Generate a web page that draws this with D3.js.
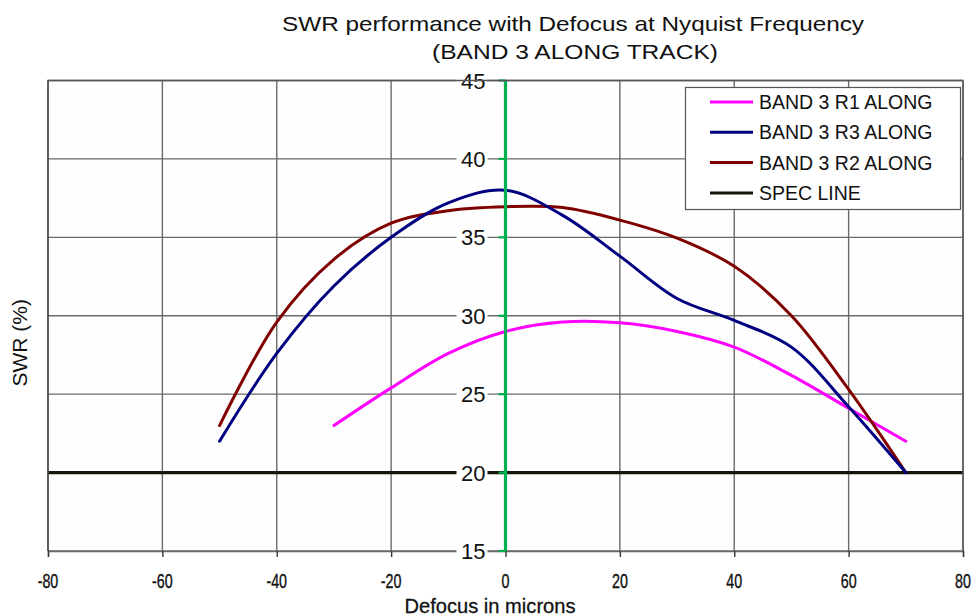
<!DOCTYPE html>
<html>
<head>
<meta charset="utf-8">
<script src="https://cdn.jsdelivr.net/npm/d3@7"></script>
<style>
  html, body { margin: 0; padding: 0; background: #fff; }
  svg { display: block; font-family: "Liberation Sans", Arial, sans-serif; }
</style>
</head>
<body>
<svg id="chart" width="977" height="616"></svg>
<script>
// Defocus (microns) sample positions for each series
const defocusR1 = [-30, -20, -10, 0, 10, 20, 30, 40, 50, 60, 70];
const defocusR2R3 = [-50, -40, -30, -20, -10, 0, 10, 20, 30, 40, 50, 60, 70];

// SWR (%) values
const swrR1 = [23.0, 25.4, 27.6, 29.0, 29.6, 29.55, 29.0, 28.0, 26.2, 24.1, 22.0];
const swrR3 = [22.0, 27.6, 31.9, 35.0, 37.2, 38.0, 36.4, 33.8, 31.1, 29.7, 28.0, 24.2, 20.0];
const swrR2 = [23.0, 29.6, 33.6, 35.9, 36.7, 36.95, 36.9, 36.1, 34.95, 33.15, 30.0, 25.3, 20.0];
const specLevel = 20;

// Axis ticks and labels
const xTicks = [-80, -60, -40, -20, 0, 20, 40, 60, 80];
const yTicks = [15, 20, 25, 30, 35, 40, 45];
const seriesNames = ["BAND 3 R1 ALONG", "BAND 3 R3 ALONG", "BAND 3 R2 ALONG", "SPEC LINE"];
const seriesColors = ["#ff00ff", "#000080", "#800000", "#141408"];

const svg = d3.select("#chart");
const plot = { left: 48, right: 963, top: 80.5, bottom: 551 };

const x = d3.scaleLinear().domain([-80, 80]).range([plot.left, plot.right]);
const y = d3.scaleLinear().domain([15, 45]).range([plot.bottom, plot.top]);

// Plot background
svg.append("rect")
  .attr("x", plot.left).attr("y", plot.top)
  .attr("width", plot.right - plot.left).attr("height", plot.bottom - plot.top)
  .attr("fill", "#fefefe");

// Horizontal gridlines
svg.append("g")
  .selectAll("line")
  .data(yTicks)
  .join("line")
  .attr("x1", plot.left).attr("x2", plot.right)
  .attr("y1", d => y(d)).attr("y2", d => y(d))
  .attr("stroke", "#6a6a6a").attr("stroke-width", 1.4);

// Vertical gridlines
svg.append("g")
  .selectAll("line")
  .data(xTicks.filter(d => d !== 0))
  .join("line")
  .attr("x1", d => x(d)).attr("x2", d => x(d))
  .attr("y1", plot.top).attr("y2", plot.bottom)
  .attr("stroke", d => (d === -80 ? "#3a3a3a" : "#6a6a6a"))
  .attr("stroke-width", 1.4);

// Bottom axis
const xAxis = d3.axisBottom(x).tickValues(xTicks).tickSize(6).tickFormat("");
const gx = svg.append("g").attr("transform", `translate(0,${plot.bottom})`).call(xAxis);
gx.select(".domain").attr("stroke", "#6a6a6a").attr("stroke-width", 1.4);
gx.selectAll(".tick line").attr("stroke", "#333").attr("stroke-width", 1.4);

svg.append("g")
  .selectAll("text")
  .data(xTicks)
  .join("text")
  .attr("transform", d => `translate(${x(d)},588) scale(0.68,1)`)
  .attr("text-anchor", "middle")
  .attr("font-size", 21)
  .attr("stroke", "#111").attr("stroke-width", 0.4)
  .attr("fill", "#111")
  .text(d => d);

// Spec line
svg.append("line")
  .attr("x1", plot.left).attr("x2", plot.right)
  .attr("y1", y(specLevel)).attr("y2", y(specLevel))
  .attr("stroke", seriesColors[3]).attr("stroke-width", 3.2);

// Series curves
const line = d3.line()
  .x(d => x(d[0]))
  .y(d => y(d[1]))
  .curve(d3.curveCatmullRom.alpha(0.5));

const series = [
  { xs: defocusR1, ys: swrR1, color: seriesColors[0] },
  { xs: defocusR2R3, ys: swrR2, color: seriesColors[2] },
  { xs: defocusR2R3, ys: swrR3, color: seriesColors[1] }
];

svg.append("g")
  .selectAll("path")
  .data(series)
  .join("path")
  .attr("d", s => line(s.xs.map((v, i) => [v, s.ys[i]])))
  .attr("fill", "none")
  .attr("stroke", s => s.color)
  .attr("stroke-width", 3)
  .attr("stroke-linecap", "round")
  .attr("stroke-linejoin", "round");

// Vertical axis through zero defocus
const yAxisG = svg.append("g");
yAxisG.append("line")
  .attr("x1", x(0)).attr("x2", x(0))
  .attr("y1", y(45)).attr("y2", y(15))
  .attr("stroke", "#00b050").attr("stroke-width", 3.2);
yAxisG.selectAll("line.tk")
  .data(yTicks)
  .join("line")
  .attr("class", "tk")
  .attr("x1", x(0) - 7).attr("x2", x(0))
  .attr("y1", d => y(d)).attr("y2", d => y(d))
  .attr("stroke", "#00b050").attr("stroke-width", 2.2);

// Y tick labels sit on white patches over the gridlines
const yLab = svg.append("g").selectAll("g").data(yTicks).join("g")
  .attr("transform", d => `translate(${x(0) - 20},${y(d)})`);
yLab.append("rect")
  .attr("x", -29).attr("y", -10).attr("width", 31).attr("height", 20)
  .attr("fill", "#fff");
yLab.append("text")
  .attr("text-anchor", "end")
  .attr("y", 8)
  .attr("font-size", 22)
  .attr("fill", "#111")
  .text(d => d);

// Titles
svg.append("text")
  .attr("x", 573).attr("y", 31)
  .attr("text-anchor", "middle")
  .attr("font-size", 21)
  .attr("textLength", 582).attr("lengthAdjust", "spacingAndGlyphs")
  .attr("fill", "#111")
  .text("SWR performance with Defocus at Nyquist Frequency");
svg.append("text")
  .attr("x", 575).attr("y", 59)
  .attr("text-anchor", "middle")
  .attr("font-size", 21)
  .attr("textLength", 286).attr("lengthAdjust", "spacingAndGlyphs")
  .attr("fill", "#111")
  .text("(BAND 3 ALONG TRACK)");

svg.append("text")
  .attr("x", 490).attr("y", 613)
  .attr("text-anchor", "middle")
  .attr("font-size", 21)
  .attr("textLength", 171).attr("lengthAdjust", "spacingAndGlyphs")
  .attr("stroke", "#111").attr("stroke-width", 0.3)
  .attr("fill", "#111")
  .text("Defocus in microns");

svg.append("text")
  .attr("transform", `translate(27,${y(30) + 27}) rotate(-90)`)
  .attr("text-anchor", "middle")
  .attr("font-size", 21)
  .attr("fill", "#111")
  .text("SWR (%)");

// Legend
const legend = svg.append("g");
legend.append("rect")
  .attr("x", 685.5).attr("y", 87.5).attr("width", 275).attr("height", 122)
  .attr("fill", "#fff").attr("stroke", "#555").attr("stroke-width", 1.2);
const rows = legend.selectAll("g.row")
  .data(seriesNames)
  .join("g")
  .attr("class", "row")
  .attr("transform", (d, i) => `translate(0,${102 + i * 30.3})`);
rows.append("line")
  .attr("x1", 710).attr("x2", 753)
  .attr("stroke", (d, i) => seriesColors[i])
  .attr("stroke-width", 3);
rows.append("text")
  .attr("x", 759).attr("y", 7)
  .attr("font-size", 19.5)
  .attr("fill", "#111")
  .text(d => d);

// Plot frame (top and right edges)
svg.append("path")
  .attr("d", `M${plot.left},${plot.bottom}V${plot.top}H${plot.right}V${plot.bottom}`)
  .attr("fill", "none").attr("stroke", "#555").attr("stroke-width", 1.4);
</script>
</body>
</html>
